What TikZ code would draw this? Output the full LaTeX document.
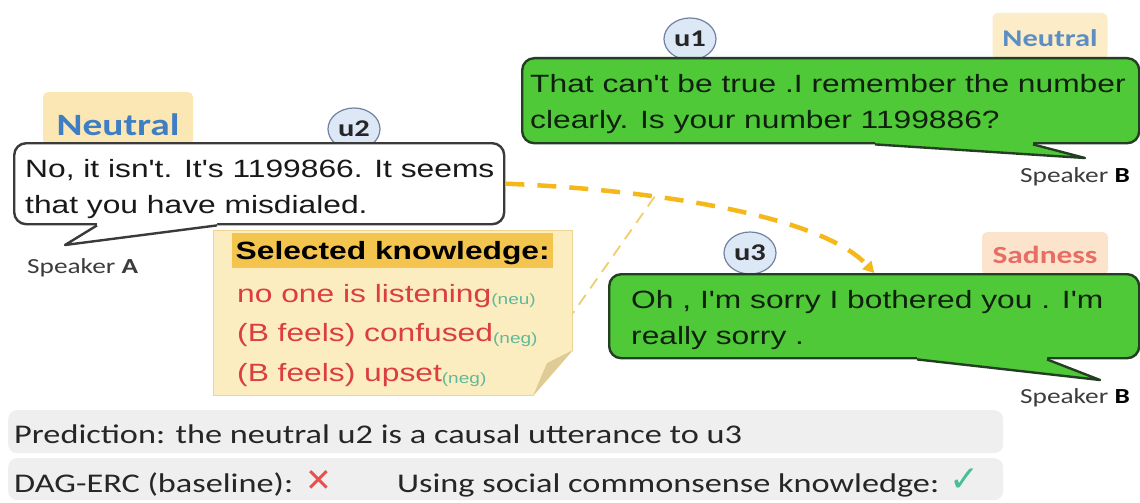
\documentclass[tikz,border=0pt]{standalone}
\usepackage{fontspec}
\usepackage{tikz}
\usetikzlibrary{arrows.meta,calc,positioning,shapes.geometric}

\newfontfamily\sayfont[FakeStretch=1.27]{Liberation Sans}
\newfontfamily\tagfont[FakeStretch=1.27]{Carlito}
\newfontfamily\markfont{DejaVu Sans}

\definecolor{saygreen}{RGB}{80,201,56}
\definecolor{greenedge}{RGB}{35,62,35}
\definecolor{greytext}{RGB}{15,32,15}
\definecolor{plainedge}{RGB}{58,58,58}
\definecolor{uttfill}{RGB}{220,232,246}
\definecolor{uttedge}{RGB}{112,130,160}
\definecolor{neutralblue}{RGB}{64,126,196}
\definecolor{neutrallight}{RGB}{92,142,196}
\definecolor{sadred}{RGB}{230,110,100}
\definecolor{tagyellow}{RGB}{251,231,180}
\definecolor{tagpale}{RGB}{252,236,200}
\definecolor{tagpeach}{RGB}{252,227,204}
\definecolor{kfill}{RGB}{252,237,192}
\definecolor{kedge}{RGB}{238,212,142}
\definecolor{headgold}{RGB}{244,197,78}
\definecolor{kred}{RGB}{218,62,62}
\definecolor{kteal}{RGB}{95,185,155}
\definecolor{foldc}{RGB}{222,203,150}
\definecolor{causalgold}{RGB}{244,184,26}
\definecolor{thingold}{RGB}{240,205,112}
\definecolor{barfill}{RGB}{239,239,239}
\definecolor{bartext}{RGB}{38,38,38}
\definecolor{speakc}{RGB}{60,60,60}
\definecolor{crossred}{RGB}{236,78,78}
\definecolor{tickteal}{RGB}{72,190,150}

\newcommand\kx[1]{{\fontsize{15}{15}\selectfont\color{kteal}\raisebox{-2pt}{(#1)}}}

\begin{document}
\begin{tikzpicture}[x=1pt,y=-1pt,
    bubble/.style={rectangle,rounded corners=12pt,line width=2.4pt,inner sep=0pt,anchor=north west},
    edge/.style={line width=2.4pt,line join=round},
    saytext/.style={inner sep=0pt,anchor=north west,align=left,font=\sayfont\fontsize{25}{36}\selectfont},
    utt/.style={ellipse,draw=uttedge,fill=uttfill,line width=1.2pt,minimum width=52pt,minimum height=42pt,inner sep=0pt,font=\tagfont\bfseries\fontsize{24}{24}\selectfont,text=black!85},
    tag/.style={rectangle,rounded corners=5pt,inner xsep=0pt,inner ysep=4pt,anchor=base,font=\tagfont\bfseries},
    speaker/.style={inner sep=0pt,anchor=base east,font=\tagfont\fontsize{21.5}{22}\selectfont,text=speakc},
    bar/.style={rectangle,rounded corners=9pt,fill=barfill,minimum width=995pt,inner sep=0pt,anchor=north west},
    bartxt/.style={inner sep=0pt,anchor=base west,font=\tagfont\fontsize{27}{27}\selectfont,text=bartext},
    >=Latex
  ]
  \useasboundingbox (0,0) rectangle (1140,503);

  \node[tag,fill=tagyellow,text=neutralblue,minimum width=150pt,text height=39pt,text depth=6pt,font=\tagfont\bfseries\fontsize{31}{31}\selectfont] (tagA) at (118,135) {Neutral};
  \node[tag,fill=tagpale,text=neutrallight,minimum width=115pt,text height=30pt,text depth=9pt,font=\tagfont\bfseries\fontsize{24}{24}\selectfont] (tagB1) at (1050,47) {Neutral};
  \node[tag,fill=tagpeach,text=sadred,minimum width=126pt,text height=27pt,text depth=8pt,font=\tagfont\bfseries\fontsize{24.7}{24.7}\selectfont] (tagB3) at (1045,263) {Sadness};

  \node[utt] (u1) at (690,39) {u1};
  \node[utt] (u2) at (354,129) {u2};
  \node[utt] (u3) at (750,253) {u3};

  \node[bubble,draw=greenedge,fill=saygreen,minimum width=617pt,minimum height=85pt] (u1box) at (521,57) {};
  \node[bubble,draw=plainedge,fill=white,minimum width=490pt,minimum height=81pt] (u2box) at (13,142) {};
  \node[bubble,draw=greenedge,fill=saygreen,minimum width=530pt,minimum height=84pt] (u3box) at (608,273) {};

  \coordinate (u1tip) at (1085,158);
  \coordinate (u2tip) at (65,245);
  \coordinate (u3tip) at (1100,380);
  \fill[saygreen] ($(u1box.south west)+(354,0)$) -- (u1tip) -- ($(u1box.south west)+(512,0)$) -- ++(0,-4) -- ($(u1box.south west)+(354,-4)$) -- cycle;
  \draw[edge,greenedge] ($(u1box.south west)+(354,0)$) -- (u1tip) -- ($(u1box.south west)+(512,0)$);
  \fill[white] ($(u2box.south west)+(84,0)$) -- (u2tip) -- ($(u2box.south west)+(204,0)$) -- ++(0,-4) -- ($(u2box.south west)+(84,-4)$) -- cycle;
  \draw[edge,plainedge] ($(u2box.south west)+(84,0)$) -- (u2tip) -- ($(u2box.south west)+(204,0)$);
  \fill[saygreen] ($(u3box.south west)+(309,0)$) -- (u3tip) -- ($(u3box.south west)+(439,0)$) -- ++(0,-4) -- ($(u3box.south west)+(309,-4)$) -- cycle;
  \draw[edge,greenedge] ($(u3box.south west)+(309,0)$) -- (u3tip) -- ($(u3box.south west)+(439,0)$);

  \node[saytext,text=greytext] (u1text) at (530,73.7) {That can't be true .I remember the number\\clearly. Is your number 1199886?};
  \node[saytext,text=black!90] (u2text) at (25,158.7) {No, it isn't. It's 1199866. It seems\\that you have misdialed.};
  \node[saytext,text=greytext] (u3text) at (631,289.7) {Oh , I'm sorry I bothered you . I'm\\really sorry .};

  \node[speaker,anchor=base west] (spkA) at (27,273) {Speaker \textbf{A}};
  \node[speaker] (spkB1) at (1130,182) {Speaker \textbf{\color{black}B}};
  \node[speaker] (spkB3) at (1130,403) {Speaker \textbf{\color{black}B}};

  \node[rectangle,draw=kedge,fill=kfill,line width=1pt,minimum width=359pt,minimum height=165pt,inner sep=0pt,anchor=north west] (kbox) at (213,230) {};
  \fill[white] ($(kbox.south east)+(0.6,-46)$) -- ($(kbox.south east)+(0.6,0.6)$) -- ($(kbox.south east)+(-40,0.6)$) -- cycle;
  \fill[foldc] ($(kbox.south east)+(0,-46)$) -- ($(kbox.south east)+(-40,0)$) -- ($(kbox.south east)+(-26,-33)$) -- cycle;
  \node[rectangle,fill=headgold,minimum width=321pt,minimum height=35pt,inner sep=0pt,text depth=0pt,anchor=north west,font=\sayfont\bfseries\fontsize{25}{25}\selectfont] (khead) at (232,233) {Selected knowledge:};
  \node[saytext,text=kred,font=\sayfont\fontsize{25}{39.5}\selectfont] (klist) at (237,283.7) {no one is listening\kx{neu}\\(B feels) confused\kx{neg}\\(B feels) upset\kx{neg}};

  \draw[causalgold,line width=4.5pt,dash pattern=on 19pt off 13pt,-{Triangle[length=11pt,width=12pt]}]
    (u2box.east) .. controls +(150,6) and +(-52,-57) .. coordinate[pos=0.33] (kj) (u3box.north);
  \draw[thingold,line width=1.8pt,dash pattern=on 12pt off 8pt] (kj) -- (kbox.east);

  \node[bar,minimum height=43pt] (predbar) at (8,410) {};
  \node[bar,minimum height=42pt] (resbar) at (8,458) {};
  \node[bartxt] (pred) at (14,443) {Prediction: the neutral u2 is a causal utterance to u3};
  \node[bartxt] (dag) at (14,492) {DAG-ERC (baseline):};
  \node[inner sep=0pt,anchor=base west,text=crossred,font=\markfont\fontsize{32}{32}\selectfont] (cross) at ($(dag.base east)+(12,-1)$) {✕};
  \node[bartxt] (using) at (397,492) {Using social commonsense knowledge:};
  \node[inner sep=0pt,anchor=base west,text=tickteal,font=\markfont\fontsize{36}{36}\selectfont] (tick) at ($(using.base east)+(10,-1)$) {✓};
\end{tikzpicture}
\end{document}
